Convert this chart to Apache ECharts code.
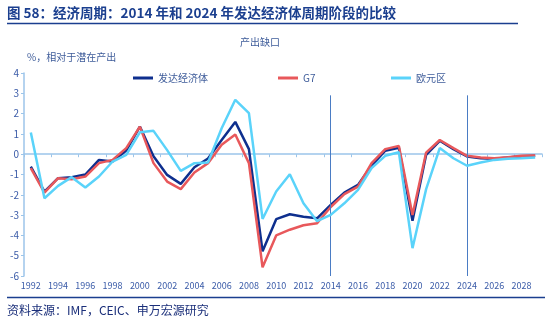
<!DOCTYPE html>
<html>
<head>
<meta charset="utf-8">
<script src="https://cdn.jsdelivr.net/npm/echarts@6/dist/echarts.min.js"></script>
<style>
  html, body { margin: 0; padding: 0; background: #fff; }
  #chart { width: 550px; height: 328px; }
</style>
</head>
<body>
<div id="chart"></div>
<script>
// Output gap, % of potential output, by year
const years = ['1992','1993','1994','1995','1996','1997','1998','1999','2000','2001',
  '2002','2003','2004','2005','2006','2007','2008','2009','2010','2011',
  '2012','2013','2014','2015','2016','2017','2018','2019','2020','2021',
  '2022','2023','2024','2025','2026','2027','2028','2029'];

const advanced = [-0.61,-1.84,-1.18,-1.13,-1.0,-0.28,-0.36,0.18,1.36,-0.1,
  -1.02,-1.46,-0.64,-0.21,0.7,1.59,0.25,-4.78,-3.2,-2.96,
  -3.08,-3.16,-2.5,-1.89,-1.51,-0.56,0.17,0.32,-3.28,-0.03,
  0.66,0.25,-0.11,-0.2,-0.22,-0.16,-0.1,-0.08];

const g7 = [-0.69,-1.89,-1.18,-1.23,-1.1,-0.44,-0.28,0.3,1.36,-0.44,
  -1.35,-1.72,-0.9,-0.44,0.46,0.97,-0.44,-5.57,-4.0,-3.72,
  -3.5,-3.4,-2.6,-1.97,-1.6,-0.44,0.25,0.41,-3.0,0.08,
  0.7,0.3,-0.08,-0.16,-0.2,-0.15,-0.08,-0.07];

const euroArea = [1.07,-2.17,-1.56,-1.13,-1.64,-1.1,-0.36,-0.03,1.08,1.15,
  0.2,-0.82,-0.44,-0.41,1.28,2.68,2.02,-3.19,-1.84,-0.99,
  -2.42,-3.3,-2.99,-2.42,-1.76,-0.68,-0.08,0.1,-4.63,-1.72,
  0.3,-0.2,-0.57,-0.41,-0.28,-0.23,-0.2,-0.16];

const seriesNames = ['发达经济体', 'G7', '欧元区'];
const seriesColors = ['#0E2F8E', '#E8585B', '#5AD3FA'];
const markYears = ['2014', '2024'];

const FONT = '"Noto Sans CJK SC", "Noto Sans", sans-serif';
const labelBlue = '#3A5BA8';
const axisBlue = '#9CC5EA';

const chart = echarts.init(document.getElementById('chart'), null, { renderer: 'canvas' });

const legendPos = [133, 278, 391];

chart.setOption({
  animation: false,
  backgroundColor: '#fff',
  textStyle: { fontFamily: FONT },
  graphic: [
    { type: 'text', left: 7, top: 6,
      style: { text: '图 58：经济周期：2014 年和 2024 年发达经济体周期阶段的比较',
        font: 'bold 13.5px ' + FONT, fill: '#1B3F8F' } },
    { type: 'line', shape: { x1: 7, y1: 23.5, x2: 518, y2: 23.5 },
      style: { stroke: '#1B3F8F', lineWidth: 1.5 } },
    { type: 'text', left: 240, top: 37,
      style: { text: '产出缺口', font: '10px ' + FONT, fill: '#3E5C9A' } },
    { type: 'text', left: 27, top: 52,
      style: { text: '%，相对于潜在产出', font: '10px ' + FONT, fill: '#3E5C9A' } },
    { type: 'line', shape: { x1: 7, y1: 297.5, x2: 545, y2: 297.5 },
      style: { stroke: '#1B3F8F', lineWidth: 1.5 } },
    { type: 'text', left: 7, top: 304,
      style: { text: '资料来源：IMF，CEIC、申万宏源研究', font: '12px ' + FONT, fill: '#1B2F7A' } }
  ],
  legend: seriesNames.map((n, i) => ({
    data: [n], left: legendPos[i], top: 73, padding: 0,
    icon: 'rect', itemWidth: 20, itemHeight: 3, itemGap: 0,
    textStyle: { fontSize: 10, color: '#3E5C9A', fontFamily: FONT }
  })),
  grid: { left: 24, right: 8, top: 73, bottom: 52, containLabel: false },
  xAxis: [
    {
      type: 'category', data: years, position: 'bottom',
      axisLine: { show: false, onZero: false },
      axisTick: { show: false },
      axisLabel: { interval: 1, fontSize: 9, color: labelBlue, margin: 5, fontFamily: FONT }
    },
    {
      type: 'category', data: years, position: 'top',
      axisLine: { show: true, onZero: true, lineStyle: { color: axisBlue, width: 1.5 } },
      axisTick: { show: true, inside: true, length: 3, interval: 1, lineStyle: { color: axisBlue } },
      axisLabel: { show: false }
    }
  ],
  yAxis: {
    type: 'value', min: -6, max: 4, interval: 1,
    axisLine: { show: true, lineStyle: { color: axisBlue, width: 1.5 } },
    axisTick: { show: true, length: 3, lineStyle: { color: axisBlue } },
    splitLine: { show: false },
    axisLabel: { fontSize: 10, color: labelBlue, margin: 5, fontFamily: FONT }
  },
  series: [advanced, g7, euroArea].map((d, i) => {
    const s = {
      name: seriesNames[i], type: 'line', data: d, xAxisIndex: 0,
      showSymbol: false, symbol: 'none', smooth: false,
      lineStyle: { color: seriesColors[i], width: 2.5 },
      itemStyle: { color: seriesColors[i] },
      z: 3 + i
    };
    if (i === 0) {
      // vertical guides marking the two comparison years
      s.markLine = {
        silent: true, symbol: 'none', label: { show: false },
        lineStyle: { color: '#4A7CC4', width: 1, type: 'solid' },
        data: markYears.map(y => [{ coord: [y, -6] }, { coord: [y, 2.9] }])
      };
    }
    return s;
  })
});
</script>
</body>
</html>
